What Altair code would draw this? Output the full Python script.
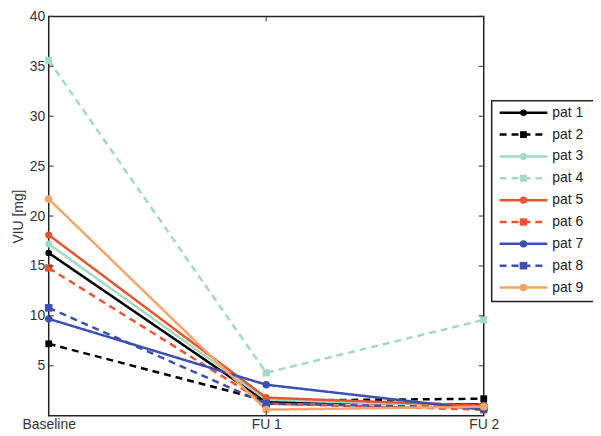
import altair as alt
import pandas as pd

# ---- data ----
visits = ["Baseline", "FU 1", "FU 2"]
patients = ["pat 1", "pat 2", "pat 3", "pat 4", "pat 5", "pat 6", "pat 7", "pat 8", "pat 9"]
values = {
    "pat 1": [16.3, 1.4, 1.1],
    "pat 2": [7.2, 1.5, 1.7],
    "pat 3": [17.2, 1.6, 0.9],
    "pat 4": [35.6, 4.3, 9.6],
    "pat 5": [18.1, 1.8, 1.0],
    "pat 6": [14.8, 1.2, 0.6],
    "pat 7": [9.7, 3.1, 0.6],
    "pat 8": [10.8, 1.2, 0.8],
    "pat 9": [21.7, 0.6, 0.9],
}
colors = ["#000000", "#000000", "#a3d9c5", "#a3d9c5", "#e8542f", "#e8542f",
          "#3c4fb3", "#3c4fb3", "#f7a468"]
dashes = [[1, 0], [7, 5], [1, 0], [7, 5], [1, 0], [7, 5], [1, 0], [7, 5], [1, 0]]
shapes = ["circle", "square", "circle", "square", "circle", "square", "circle", "square", "circle"]
sizes = [45, 60, 45, 60, 45, 60, 45, 60, 45]
y_ticks = [5, 10, 15, 20, 25, 30, 35, 40]

W, H = 438, 402

rows = []
for p in patients:
    for i, v in enumerate(values[p]):
        rows.append({"pat": p, "xi": i, "visit": visits[i], "val": v})
df = pd.DataFrame(rows)

color_s = alt.Scale(domain=patients, range=colors)
dash_s = alt.Scale(domain=patients, range=dashes)
shape_s = alt.Scale(domain=patients, range=shapes)
size_s = alt.Scale(domain=patients, range=sizes)

label_expr = "datum.value == 0 ? 'Baseline' : datum.value == 1 ? 'FU 1' : 'FU 2'"
x_enc = alt.X("xi:Q", scale=alt.Scale(domain=[0, 2], nice=False),
              axis=alt.Axis(values=[0, 1, 2], labelExpr=label_expr, ticks=False,
                            grid=False, domain=False, title=None, labelPadding=2,
                            labelFontSize=14, labelColor="#333333",
                            labelFont="Liberation Sans", labelFlush=False))
y_enc = alt.Y("val:Q", scale=alt.Scale(domain=[0, 40], nice=False),
              axis=alt.Axis(values=y_ticks, ticks=False, grid=False, domain=False,
                            title="VIU [mg]", titleFontWeight="normal", titleFontSize=14,
                            titleColor="#333333", titleFont="Liberation Sans",
                            labelFontSize=14, labelColor="#333333",
                            labelFont="Liberation Sans", labelPadding=4, titlePadding=4))

lines = alt.Chart(df).mark_line(strokeWidth=2.5, clip=False).encode(
    x=x_enc, y=y_enc,
    color=alt.Color("pat:N", scale=color_s, legend=None),
    strokeDash=alt.StrokeDash("pat:N", scale=dash_s, legend=None),
    detail="pat:N",
)
points = alt.Chart(df).mark_point(filled=True, opacity=1, clip=False).encode(
    x="xi:Q", y="val:Q",
    color=alt.Color("pat:N", scale=color_s, legend=None),
    shape=alt.Shape("pat:N", scale=shape_s, legend=None),
    size=alt.Size("pat:N", scale=size_s, legend=None),
)

# inward ticks (MATLAB style)
tick_df = pd.DataFrame({"t": y_ticks})
ticks_left = alt.Chart(tick_df).mark_rule(color="#333333", strokeWidth=1).encode(
    y="t:Q", x=alt.value(0), x2=alt.value(5))
ticks_right = alt.Chart(tick_df).mark_rule(color="#333333", strokeWidth=1).encode(
    y="t:Q", x=alt.value(W - 5), x2=alt.value(W))
xt_df = pd.DataFrame({"xt": [1]})
ticks_bottom = alt.Chart(xt_df).mark_rule(color="#333333", strokeWidth=1).encode(
    x="xt:Q", y=alt.value(H - 5), y2=alt.value(H))
ticks_top = alt.Chart(xt_df).mark_rule(color="#333333", strokeWidth=1).encode(
    x="xt:Q", y=alt.value(0), y2=alt.value(5))

# legend (manual, to show line + marker)
leg_df = pd.DataFrame({"pat": patients, "ly": [97 + 22 * i for i in range(len(patients))]})
box = alt.Chart(pd.DataFrame({"a": [0]})).mark_rect(
    fill="white", stroke="#222222", strokeWidth=1.5).encode(
    x=alt.value(446), x2=alt.value(550), y=alt.value(85), y2=alt.value(287))
leg_lines = alt.Chart(leg_df).mark_rule(strokeWidth=2.5).encode(
    x=alt.value(454), x2=alt.value(502), y=alt.Y("ly:Q", scale=None),
    color=alt.Color("pat:N", scale=color_s, legend=None),
    strokeDash=alt.StrokeDash("pat:N", scale=dash_s, legend=None),
)
leg_pts = alt.Chart(leg_df).mark_point(filled=True, opacity=1).encode(
    x=alt.value(478), y=alt.Y("ly:Q", scale=None),
    color=alt.Color("pat:N", scale=color_s, legend=None),
    shape=alt.Shape("pat:N", scale=shape_s, legend=None),
    size=alt.Size("pat:N", scale=size_s, legend=None),
)
leg_text = alt.Chart(leg_df).mark_text(
    align="left", baseline="middle", fontSize=14, font="Liberation Sans", color="#222222").encode(
    x=alt.value(507), y=alt.Y("ly:Q", scale=None), text="pat:N")

chart = alt.layer(
    lines, points, ticks_left, ticks_right, ticks_bottom, ticks_top,
    box, leg_lines, leg_pts, leg_text
).properties(
    width=W, height=H,
    autosize=alt.AutoSizeParams(type="none"),
    padding={"left": 41, "top": 7, "right": 110, "bottom": 19},
).configure(background="white").configure_view(stroke="#222222", strokeWidth=1.5)

chart.save("out.html", embed_options={"renderer": "svg", "actions": False})
